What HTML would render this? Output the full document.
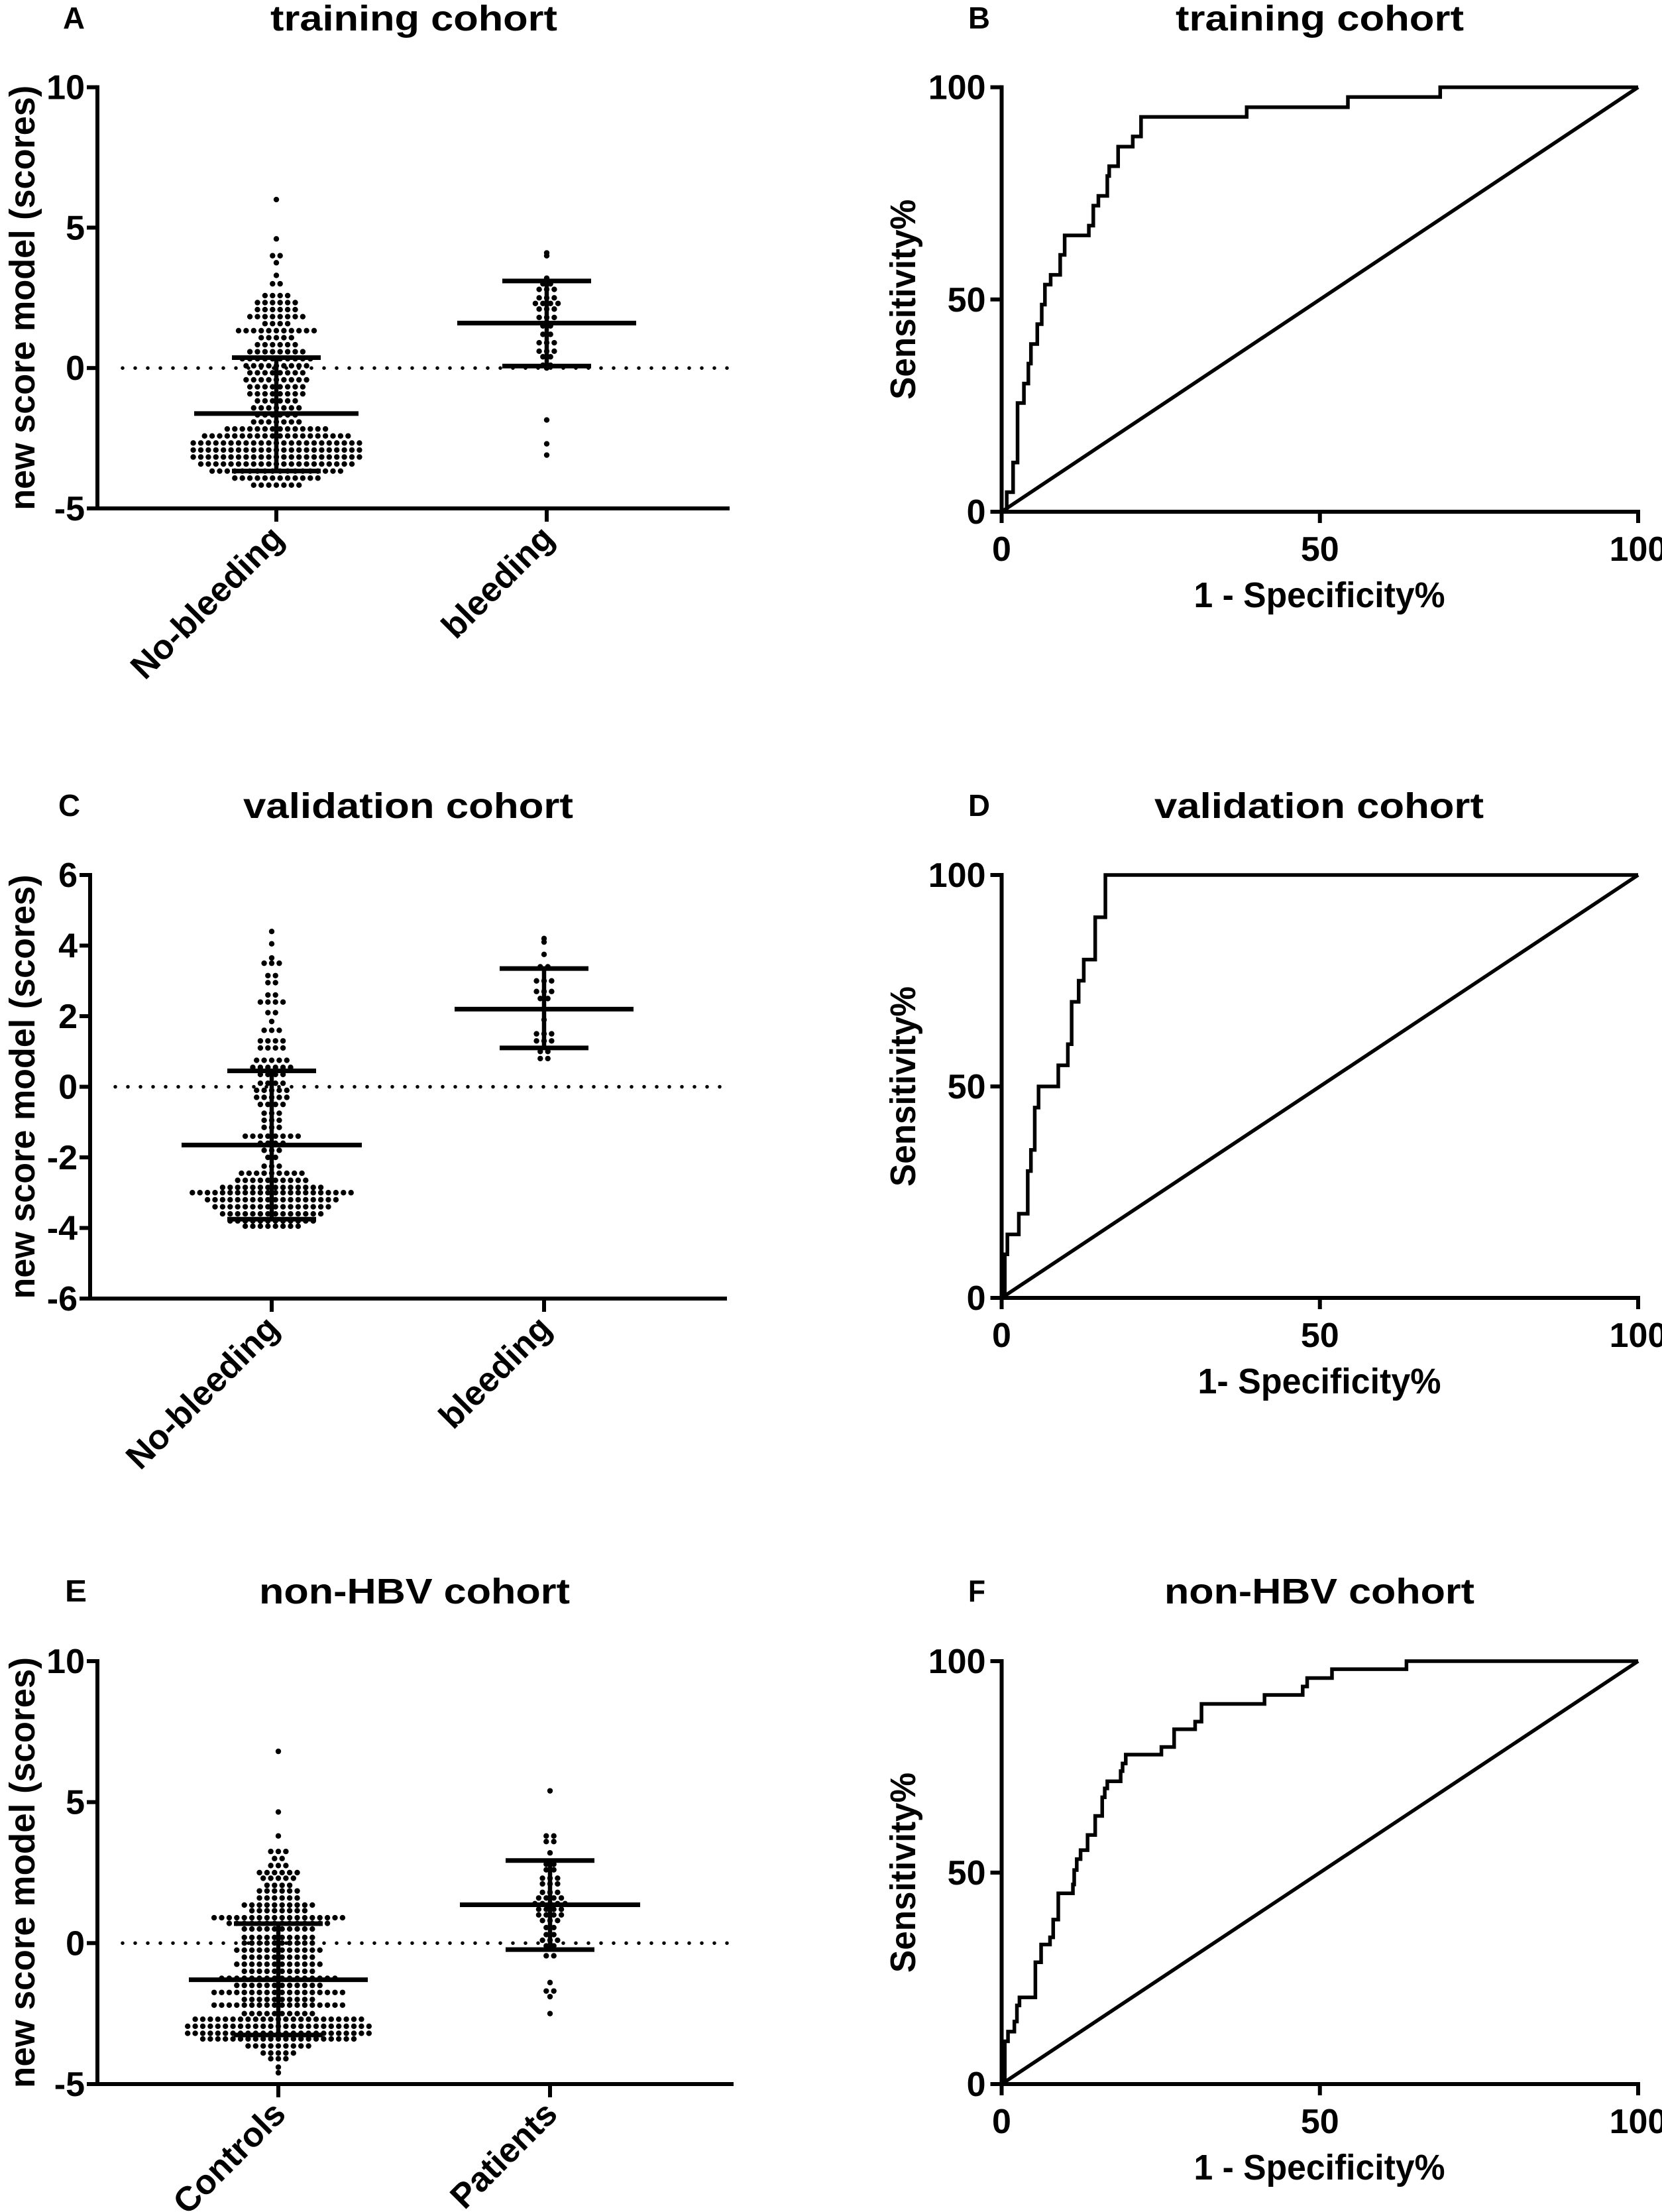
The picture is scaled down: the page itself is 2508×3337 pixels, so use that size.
<!DOCTYPE html>
<html><head><meta charset="utf-8"><style>
html,body{margin:0;padding:0;background:#fff;}
svg{display:block;font-family:"Liberation Sans",Arial,sans-serif;font-weight:bold;}
</style></head><body>
<svg id="fig" xmlns="http://www.w3.org/2000/svg" width="2508" height="3337" viewBox="0 0 2508 3337">
<rect width="2508" height="3337" fill="#fff"/>
</svg>
<script>
// ---- Panel A data (training cohort dot plot) ----
const aNoVals   = [-4.17,-3.92,-3.67,-3.42,-3.17,-2.92,-2.67,-2.42,-2.17,-1.92,-1.67,-1.42,-1.17,-0.92,-0.67,-0.42,-0.17,0.08,0.33,0.58,0.83,1.08,1.33,1.58,1.83,2.08,2.33,2.58,3.0,3.3,3.75,4.0,4.6,6.0];
const aNoCounts = [7,12,18,21,23,23,23,20,14,7,6,7,6,8,8,9,8,9,10,8,6,5,11,4,8,6,6,4,2,1,1,2,1,1];
const aNoStats  = [-1.62,0.37,-3.67];
const aBlVals   = [4.1,4.0,3.2,3.0,2.8,2.5,2.3,2.1,1.8,1.5,1.2,0.9,0.6,0.4,0.1,0.0,-1.85,-2.7,-3.1];
const aBlCounts = [1,1,1,2,3,3,4,3,3,2,2,3,3,2,2,1,1,1,1];
const aBlStats  = [1.6,3.1,0.07];
const aCats = ["No-bleeding","bleeding"];
const aTicks = [10,5,0,-5];
// ---- Panel B data (training ROC) ----
const bStepFpr  = [0.8,1.8,2.5,3.5,4.2,4.6,5.6,6.3,6.8,7.7,9.2,9.9,13.7,14.4,15.2,16.6,16.9,18.3,20.6,21.9,38.5,54.4,68.9];
const bStepSens = [4.6,11.6,25.6,30.2,34.9,39.5,44.2,48.8,53.5,55.8,60.5,65.1,67.4,72.1,74.4,79.1,81.4,86.0,88.4,93.0,95.3,97.7,100];
const rocTicks = [0,50,100];
// ---- Panel C data (validation dot plot) ----
const cNoVals   = [-3.95,-3.8,-3.6,-3.4,-3.2,-3.0,-2.85,-2.65,-2.45,-2.25,-2.0,-1.8,-1.6,-1.4,-1.15,-0.95,-0.75,-0.5,-0.3,-0.1,0.1,0.35,0.55,0.75,1.1,1.3,1.6,1.85,2.1,2.4,2.6,2.95,3.15,3.5,3.65,4.05,4.4];
const cNoCounts = [8,12,14,16,18,22,14,10,9,3,2,3,4,8,3,3,3,4,5,5,4,4,6,5,4,4,3,1,2,4,2,2,2,3,1,1,1];
const cNoStats  = [-1.65,0.45,-3.75];
const cBlVals   = [4.2,4.1,3.75,3.4,3.0,2.7,2.5,2.2,1.9,1.5,1.3,1.0,0.8];
const cBlCounts = [1,1,1,2,3,3,2,1,1,3,3,2,2];
const cBlStats  = [2.2,3.35,1.1];
const cCats = ["No-bleeding","bleeding"];
const cTicks = [6,4,2,0,-2,-4,-6];
// ---- Panel D data (validation ROC) ----
const dStepFpr  = [0.5,0.9,2.7,4.1,4.6,5.2,5.8,8.9,10.4,11.0,12.1,12.9,14.7,16.3];
const dStepSens = [10.3,15,19.9,30,35,45,50,55,60,70,75,80,90,100];
// ---- Panel E data (non-HBV dot plot) ----
const eCoVals   = [-4.6,-4.4,-4.1,-3.9,-3.65,-3.4,-3.2,-2.95,-2.7,-2.5,-2.2,-2.0,-1.75,-1.5,-1.25,-1.0,-0.75,-0.5,-0.25,0,0.2,0.5,0.7,0.9,1.15,1.35,1.6,1.85,2.05,2.3,2.5,2.75,3.0,3.25,3.8,4.65,6.8];
const eCoCounts = [1,1,3,5,9,21,25,25,23,10,18,10,18,12,16,10,12,10,12,10,10,10,14,18,8,10,6,6,4,5,6,3,2,3,1,1,1];
const eCoStats  = [-1.3,0.69,-3.26];
const ePaVals   = [5.4,3.8,3.6,3.2,2.8,2.6,2.3,2.1,1.8,1.6,1.4,1.2,1.0,0.8,0.55,0.3,0.1,-0.1,-0.45,-1.4,-1.7,-1.9,-2.5];
const ePaCounts = [1,2,2,1,2,2,3,3,3,4,5,4,4,3,2,2,3,2,2,1,2,1,1];
const ePaStats  = [1.36,2.93,-0.23];
const eCats = ["Controls","Patients"];
const eTicks = [10,5,0,-5];
// ---- Panel F data (non-HBV ROC) ----
const fStepFpr  = [0.5,1.0,2.0,2.4,2.8,5.3,5.3,6.2,7.6,8.1,8.9,11.2,11.4,11.8,12.4,13.5,14.7,15.8,16.2,16.6,18.7,19.0,19.5,25.1,27.1,30.4,31.4,41.3,47.3,48.0,51.9,63.6];
const fStepSens = [10.1,12.4,14.8,18.6,20.5,22.9,28.8,33,34.7,38.9,45.1,47.2,50.6,53.2,55.3,58.9,63.4,67.8,69.9,71.6,74,75.8,77.9,79.7,83.9,85.7,89.9,92,94,96,98.1,100];

const NS = "http://www.w3.org/2000/svg";
const svg = document.getElementById("fig");
function el(tag, attrs, parent){
  const e = document.createElementNS(NS, tag);
  for (const k in attrs) e.setAttribute(k, attrs[k]);
  (parent||svg).appendChild(e);
  return e;
}
function txt(parent, s, attrs){ const t = el("text", attrs, parent); t.textContent = s; return t; }

function headers(g, letter, lx, title, tx, tlen, base){
  const l = txt(g, letter, {x:lx, y:base-3, "font-size":46, textLength:letter==="F"?26:33, lengthAdjust:"spacingAndGlyphs"});
  
  
  const t = txt(g, title, {x:tx, y:base, "font-size":54, textLength:tlen, lengthAdjust:"spacingAndGlyphs"});
  
  
}

function dotPanel(cfg){
  const g = el("g", {});
  
  
  headers(g, cfg.letter, cfg.lx, cfg.title, cfg.tx, cfg.tlen, cfg.base);
  const y = v => cfg.yTop + (cfg.vmax - v) / (cfg.vmax - cfg.vmin) * (cfg.yBot - cfg.yTop);
  const zl = el("line", {x1:cfg.ax+38, x2:cfg.xEnd, y1:y(0), y2:y(0), stroke:"#000", "stroke-width":5.5, "stroke-dasharray":"0 19", "stroke-linecap":"round"}, g);
  
  
  cfg.groups.forEach((gr, gi) => {
    const cx = cfg.catX[gi];
    const gg = el("g", {}, g);
    
    
    gr.vals.forEach((v, ri) => {
      const n = gr.counts[ri];
      for (let i = 0; i < n; i++) {
        const c = el("circle", {cx: cx + (i - (n - 1) / 2) * 11.4, cy: y(v), r: 4.2, fill:"#000"}, gg);
        
        
      }
    });
    const [m, hi, lo] = gr.stats;
    const sd = el("line", {x1:cx, x2:cx, y1:y(hi), y2:y(lo), stroke:"#000", "stroke-width":6.5}, gg);
    
    
    const ml = el("line", {x1:cx-gr.mw, x2:cx+gr.mw, y1:y(m), y2:y(m), stroke:"#000", "stroke-width":7}, gg);
    
    
    [hi, lo].forEach(v => {
      const c = el("line", {x1:cx-67, x2:cx+67, y1:y(v), y2:y(v), stroke:"#000", "stroke-width":7}, gg);
      
      
    });
  });
  const ya = el("line", {x1:cfg.ax, x2:cfg.ax, y1:cfg.yTop-3, y2:cfg.yBot+3, stroke:"#000", "stroke-width":6}, g);
  
  
  const xa = el("line", {x1:cfg.ax-3, x2:cfg.xEnd, y1:cfg.yBot, y2:cfg.yBot, stroke:"#000", "stroke-width":6}, g);
  
  
  cfg.ticks.forEach(t => {
    const tk = el("line", {x1:cfg.ax-16, x2:cfg.ax, y1:y(t), y2:y(t), stroke:"#000", "stroke-width":6}, g);
    
    
    const tl = txt(g, String(t), {x:cfg.ax-19, y:y(t)+18, "font-size":52, "text-anchor":"end"});
    
    
  });
  cfg.catX.forEach((cx, i) => {
    const tk = el("line", {x1:cx, x2:cx, y1:cfg.yBot, y2:cfg.yBot+20, stroke:"#000", "stroke-width":6}, g);
    
    
    const tl = txt(g, cfg.cats[i], {x:0, y:0, "font-size":52, "text-anchor":"end", transform:`translate(${cx+14},${cfg.yBot+48}) rotate(-45)`});
    
    
  });
  const yt = txt(g, "new score model (scores)", {x:0, y:0, "font-size":54, "text-anchor":"middle", textLength:cfg.ytLen, lengthAdjust:"spacingAndGlyphs", transform:`translate(52,${(cfg.yTop+cfg.yBot)/2}) rotate(-90)`});
  
  
}

function rocPanel(cfg){
  const g = el("g", {});
  
  
  headers(g, cfg.letter, 1461, cfg.title, cfg.tx, cfg.tlen, cfg.base);
  const x0 = 1511.5, x1 = 2472;
  const X = v => x0 + v / 100 * (x1 - x0);
  const Y = v => cfg.y0 + v / 100 * (cfg.y100 - cfg.y0);
  const diag = el("line", {x1:X(0), y1:Y(0), x2:X(100), y2:Y(100), stroke:"#000", "stroke-width":5.5}, g);
  
  
  let d = `M${X(0)},${Y(0)}`;
  cfg.fpr.forEach((f, i) => { d += ` H${X(f)} V${Y(cfg.sens[i])}`; });
  d += ` H${X(100)}`;
  const p = el("path", {d, fill:"none", stroke:"#000", "stroke-width":5.5, "stroke-linejoin":"miter"}, g);
  
  
  const ya = el("line", {x1:x0, x2:x0, y1:cfg.y100-3, y2:cfg.y0+3, stroke:"#000", "stroke-width":6}, g);
  
  
  const xa = el("line", {x1:x0-3, x2:x1+3, y1:cfg.y0, y2:cfg.y0, stroke:"#000", "stroke-width":6}, g);
  
  
  rocTicks.forEach(t => {
    const a = el("line", {x1:x0-17, x2:x0, y1:Y(t), y2:Y(t), stroke:"#000", "stroke-width":6}, g);
    
    
    const al = txt(g, String(t), {x:x0-24, y:Y(t)+18, "font-size":52, "text-anchor":"end"});
    
    
    const b = el("line", {x1:X(t), x2:X(t), y1:cfg.y0, y2:cfg.y0+17, stroke:"#000", "stroke-width":6}, g);
    
    
    const bl = txt(g, String(t), {x:X(t), y:cfg.y0+74, "font-size":52, "text-anchor":"middle"});
    
    
  });
  const xt = txt(g, cfg.xTitle, {x:1991, y:cfg.y0+144, "font-size":54, "text-anchor":"middle", textLength:cfg.xtLen, lengthAdjust:"spacingAndGlyphs"});
  
  
  const yt = txt(g, "Sensitivity%", {x:0, y:0, "font-size":54, "text-anchor":"middle", textLength:302, lengthAdjust:"spacingAndGlyphs", transform:`translate(1381,${(cfg.y0+cfg.y100)/2}) rotate(-90)`});
  
  
}

dotPanel({name:"panel-a", letter:"A", lx:95, title:"training cohort", tx:408, tlen:433, base:46,
  ax:147, yTop:131.6, yBot:767, vmin:-5, vmax:10, xEnd:1101, ticks:aTicks, cats:aCats, catX:[417,825], ytLen:641,
  groups:[{vals:aNoVals, counts:aNoCounts, stats:aNoStats, mw:124},{vals:aBlVals, counts:aBlCounts, stats:aBlStats, mw:135}]});
rocPanel({name:"panel-b", letter:"B", title:"training cohort", tx:1774, tlen:435, base:46,
  y100:131.6, y0:772, fpr:bStepFpr, sens:bStepSens, xTitle:"1 - Specificity%", xtLen:379});
dotPanel({name:"panel-c", letter:"C", lx:88, title:"validation cohort", tx:367, tlen:498, base:1234,
  ax:136, yTop:1320, yBot:1959, vmin:-6, vmax:6, xEnd:1097, ticks:cTicks, cats:cCats, catX:[410,821], ytLen:640,
  groups:[{vals:cNoVals, counts:cNoCounts, stats:cNoStats, mw:136},{vals:cBlVals, counts:cBlCounts, stats:cBlStats, mw:135}]});
rocPanel({name:"panel-d", letter:"D", title:"validation cohort", tx:1742, tlen:497, base:1234,
  y100:1320, y0:1958, fpr:dStepFpr, sens:dStepSens, xTitle:"1- Specificity%", xtLen:367});
dotPanel({name:"panel-e", letter:"E", lx:98, title:"non-HBV cohort", tx:391, tlen:469, base:2419,
  ax:147, yTop:2506, yBot:3144, vmin:-5, vmax:10, xEnd:1107, ticks:eTicks, cats:eCats, catX:[420,830], ytLen:650,
  groups:[{vals:eCoVals, counts:eCoCounts, stats:eCoStats, mw:135},{vals:ePaVals, counts:ePaCounts, stats:ePaStats, mw:136}]});
rocPanel({name:"panel-f", letter:"F", title:"non-HBV cohort", tx:1757, tlen:468, base:2419,
  y100:2506, y0:3144, fpr:fStepFpr, sens:fStepSens, xTitle:"1 - Specificity%", xtLen:379});
</script>
</body></html>
